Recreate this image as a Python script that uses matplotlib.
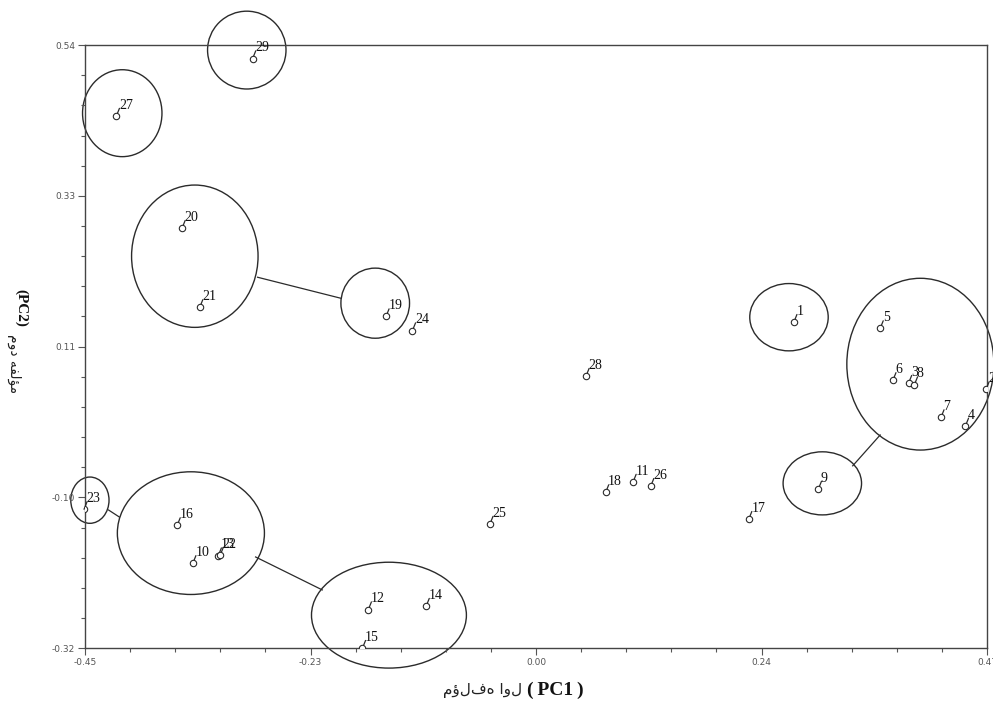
# PCA biplot of samples on PC1 / PC2 with grouping ellipses

import matplotlib.pyplot as plt
from matplotlib.patches import Ellipse

ids = [1, 2, 3, 4, 5, 6, 7, 8, 9, 10, 11, 12, 13, 14, 15, 16, 17, 18, 19, 20,
       21, 22, 23, 24, 25, 26, 27, 28, 29]
pc1 = [0.273, 0.469, 0.390, 0.448, 0.361, 0.374, 0.423, 0.396, 0.298, -0.340,
       0.109, -0.161, -0.314, -0.102, -0.167, -0.356, 0.227, 0.081, -0.143, -0.351,
       -0.333, -0.312, -0.451, -0.116, -0.037, 0.127, -0.418, 0.061, -0.279]
pc2 = [0.145, 0.049, 0.058, -0.003, 0.136, 0.062, 0.009, 0.056, -0.093, -0.199,
       -0.083, -0.265, -0.188, -0.260, -0.320, -0.145, -0.136, -0.098, 0.153, 0.279,
       0.166, -0.187, -0.122, 0.133, -0.143, -0.089, 0.439, 0.068, 0.521]

# grouping ellipses (centre x, centre y, width, height) in PC units
groups = [(-0.285, 0.533, 0.080, 0.111),
          (-0.412, 0.443, 0.081, 0.124),
          (-0.338, 0.239, 0.129, 0.203),
          (-0.154, 0.172, 0.070, 0.100),
          (0.268, 0.152, 0.080, 0.096),
          (0.402, 0.085, 0.150, 0.245),
          (0.302, -0.085, 0.080, 0.090),
          (-0.445, -0.109, 0.039, 0.066),
          (-0.342, -0.156, 0.150, 0.175),
          (-0.140, -0.273, 0.158, 0.151)]
links = [((-0.274, 0.209), (-0.189, 0.179)),
         ((-0.426, -0.123), (-0.415, -0.133)),
         ((-0.276, -0.190), (-0.208, -0.237)),
         ((0.361, -0.016), (0.333, -0.060))]

xticks = ['-0.45', '-0.23', '0.00', '0.24', '0.47']
yticks = ['0.54', '0.33', '0.11', '-0.10', '-0.32']

fig = plt.figure(figsize=(9.93, 7.06), dpi=100)
ax = fig.add_axes([0.0856, 0.082, 0.9084, 0.854])
ink = '#2b2b2b'

ax.plot(pc1, pc2, 'o', ms=4.6, mfc='white', mec=ink, mew=0.8, zorder=4)
for i, x, y in zip(ids, pc1, pc2):
    # short stem from the marker to its label
    ax.annotate('', (x, y), xytext=(2.2, 5.5), textcoords='offset points',
                annotation_clip=False,
                arrowprops=dict(arrowstyle='-', lw=0.9, color=ink,
                                shrinkA=0, shrinkB=0))
    ax.annotate(str(i), (x, y), xytext=(1.8, 3.0), textcoords='offset points',
                ha='left', va='bottom', fontsize=10, family='Liberation Serif',
                color='#111111', annotation_clip=False, zorder=5)

for cx, cy, w, h in groups:
    ax.add_patch(Ellipse((cx, cy), w, h, fill=False, ec=ink, lw=1.0, clip_on=False))
for (x0, y0), (x1, y1) in links:
    ax.plot([x0, x1], [y0, y1], color=ink, lw=0.9, clip_on=False)

ax.set_xlim(-0.45, 0.47)
ax.set_ylim(-0.32, 0.54)
xt = [-0.45 + k * 0.23 for k in range(5)]
yt = [0.54 - k * 0.215 for k in range(5)]
ax.set_xticks(xt)
ax.set_xticklabels(xticks)
ax.set_yticks(yt)
ax.set_yticklabels(yticks)
ax.set_xticks([-0.45 + k * 0.046 for k in range(21)], minor=True)
ax.set_yticks([0.54 - k * 0.043 for k in range(21)], minor=True)
ax.tick_params(which='major', length=5, width=0.8, color='#555555',
               labelsize=6.5, labelcolor='#555555', pad=2)
ax.tick_params(which='minor', length=3, width=0.8, color='#555555')
for s in ax.spines.values():
    s.set_color('#444444')
    s.set_linewidth(1.0)

# axis titles (the source draws the x title's Persian letters left to right)
fa_x = 'مؤلفه اول'
fa_y = '\uFEE1\uFEED\uFEA9 \uFEEA\uFED4\uFEDF\uFE86\uFEE3'
fig.text(0.526, 0.022, fa_x, ha='right', va='center', fontsize=11,
         family='DejaVu Sans', color='#222222')
fig.text(0.531, 0.022, '(\u2009PC1\u2009)', ha='left', va='center', fontsize=14,
         family='Liberation Serif', weight='bold', color='#111111')
fig.text(0.021, 0.590, '(PC2)', ha='center', va='top', rotation=-90, fontsize=11,
         family='Liberation Serif', weight='bold', color='#111111')
fig.text(0.014, 0.527, fa_y, ha='center', va='top', rotation=-90, fontsize=10,
         family='DejaVu Sans', color='#222222')

plt.savefig('out.png', dpi=100)
plt.close('all')
